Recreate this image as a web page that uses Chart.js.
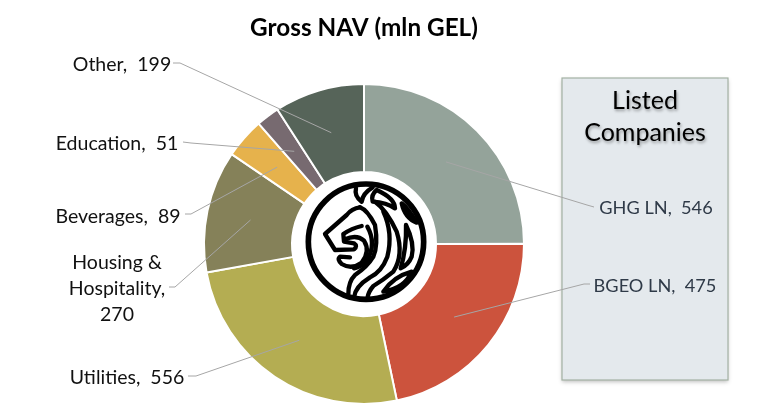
<!DOCTYPE html>
<html>
<head>
<meta charset="utf-8">
<script src="https://cdn.jsdelivr.net/npm/chart.js@4"></script>
<style>
    body { margin: 0; background: #fff; }
    #wrap { width: 778px; height: 414px; }
</style>
</head>
<body>
<div id="wrap"><canvas id="navChart" width="778" height="414"></canvas></div>
<script>
const categories = ["GHG LN", "BGEO LN", "Utilities", "Housing & Hospitality", "Beverages", "Education", "Other"];
const navValues = [546, 475, 556, 270, 89, 51, 199];
const sliceColors = ["#94A39A", "#CC533D", "#B4AD52", "#858159", "#E6B24C", "#776A70", "#566459"];

const FONT = "Lato, 'Noto Sans', sans-serif";

// label text anchor and leader start, one per slice
const labelSpots = [
    { x: 656, y: 208, size: 18.2, from: [594, 207], knee: [587, 205], color: "#2F3A48" },
    { x: 655, y: 286, size: 18.2, from: [590, 284], knee: [584, 284], color: "#2F3A48" },
    { x: 127, y: 378, size: 19.5, from: [188, 376], knee: [196, 376], color: "#111" },
    { x: 117, y: 289, size: 19.5, from: [169, 287], knee: [175, 287], color: "#111", lines: ["Housing &", "Hospitality,", "270"] },
    { x: 118, y: 217, size: 19.5, from: [185, 214], knee: [191, 214], color: "#111" },
    { x: 117, y: 144, size: 19.5, from: [183, 142], knee: [191, 143], color: "#111" },
    { x: 122, y: 65, size: 19.5, from: [173, 63], knee: [180, 63], color: "#111" }
];

// listed companies panel, sits behind everything
const panelPlugin = {
    id: "panel",
    beforeDraw(chart) {
        const c = chart.ctx;
        c.save();
        c.shadowColor = "rgba(0,0,0,0.25)";
        c.shadowBlur = 4;
        c.shadowOffsetY = 2;
        c.fillStyle = "#E4E9ED";
        c.fillRect(562, 78, 166, 302);
        c.shadowColor = "transparent";
        c.strokeStyle = "#A3B1A3";
        c.lineWidth = 1.2;
        c.strokeRect(562, 78, 166, 302);
        c.fillStyle = "#000";
        c.font = "25px " + FONT;
        c.textAlign = "center";
        c.textBaseline = "middle";
        c.shadowColor = "rgba(0,0,0,0.35)";
        c.shadowBlur = 3;
        c.shadowOffsetX = 1;
        c.shadowOffsetY = 2;
        c.fillText("Listed", 645, 101);
        c.fillText("Companies", 645, 133);
        c.restore();
    }
};

// leader lines and category labels
const labelPlugin = {
    id: "sliceLabels",
    afterDatasetsDraw(chart) {
        const c = chart.ctx;
        const arcs = chart.getDatasetMeta(0).data;
        c.save();
        arcs.forEach((arc, i) => {
            const spot = labelSpots[i];
            const mid = arc.getCenterPoint();
            c.beginPath();
            c.moveTo(spot.from[0], spot.from[1]);
            c.lineTo(spot.knee[0], spot.knee[1]);
            c.lineTo(mid.x, mid.y);
            c.strokeStyle = "#A6A6A6";
            c.lineWidth = 1;
            c.stroke();

            c.fillStyle = spot.color;
            c.font = spot.size + "px " + FONT;
            c.textAlign = "center";
            c.textBaseline = "middle";
            const lines = spot.lines || [categories[i] + ",  " + navValues[i]];
            lines.forEach((t, n) => {
                c.fillText(t, spot.x, spot.y + (n - (lines.length - 1) / 2) * 26);
            });
        });
        c.restore();
    }
};

// lion logo in the hole, drawn on the zoomed 3x grid of the crop
const logoPlugin = {
    id: "logo",
    afterDraw(chart) {
        const c = chart.ctx;
        c.save();
        c.translate(280, 160);
        c.scale(1 / 3, 1 / 3);
        c.strokeStyle = "#000";
        c.lineCap = "round";
        c.lineJoin = "round";

        c.lineWidth = 17;
        c.beginPath();
        c.arc(258, 245, 173, 0, Math.PI * 2);
        c.stroke();

        c.lineWidth = 13;
        const paths = [
            // head and nose
            "M240 142 Q215 145 200 165 L135 222 L165 270 L222 268 Q234 258 222 250 L192 245 L190 222 Q215 205 245 198",
            // mouth spiral
            "M195 238 Q230 222 252 242 Q272 275 245 308 Q215 330 185 312 Q170 298 180 290 L210 292",
            // inner mane
            "M240 142 Q262 150 285 195 Q295 255 280 290 Q262 320 225 345 Q205 365 205 402",
            "M262 200 Q290 250 262 300 Q245 320 222 325",
            // outer mane
            "M285 125 Q320 150 350 215 Q372 285 340 335 Q310 360 280 378 Q265 395 262 415",
            "M310 155 Q340 220 322 290 Q305 335 270 352 Q225 380 222 412",
            "M378 195 Q405 250 395 290 Q385 315 362 325 Q380 265 378 195 Z",
            // crown
            "M228 85 Q222 108 245 125 Q248 100 278 82",
            "M290 90 Q272 105 278 125 Q320 128 345 145 Q345 115 290 90 Z",
            "M365 130 Q385 145 410 188 Q375 175 365 130 Z",
            // leaf
            "M310 395 Q340 350 395 335 Q375 385 310 395 Z"
        ];
        paths.forEach(d => c.stroke(new Path2D(d)));
        c.restore();
    }
};

new Chart(document.getElementById("navChart"), {
    type: "doughnut",
    data: {
        labels: categories,
        datasets: [{
            data: navValues,
            backgroundColor: sliceColors,
            borderColor: "#fff",
            borderWidth: 2
        }]
    },
    options: {
        responsive: false,
        animation: false,
        cutout: "45%",
        layout: { padding: { left: 203, right: 253, top: 83, bottom: 9 } },
        plugins: {
            legend: { display: false },
            tooltip: { enabled: false },
            title: { display: false }
        }
    },
    plugins: [panelPlugin, labelPlugin, logoPlugin, {
        id: "heading",
        afterDraw(chart) {
            const c = chart.ctx;
            c.save();
            c.fillStyle = "#000";
            c.font = "bold 24.3px " + FONT;
            c.textAlign = "center";
            c.textBaseline = "middle";
            c.fillText("Gross NAV (mln GEL)", 364, 28);
            c.restore();
        }
    }]
});
</script>
</body>
</html>
